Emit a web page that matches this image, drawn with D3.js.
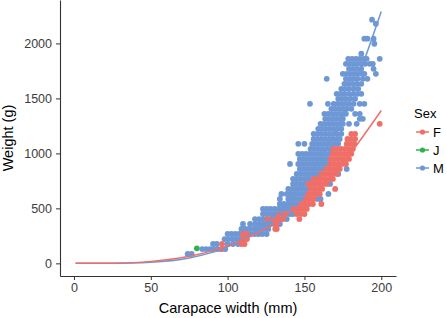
<!DOCTYPE html>
<html>
<head>
<meta charset="utf-8">
<script src="https://cdn.jsdelivr.net/npm/d3@7"></script>
<style>
    body { margin: 0; background: #fff; }
    svg text { font-family: "Liberation Sans", Arial, Helvetica, sans-serif; }
</style>
</head>
<body>
<svg id="chart" width="447" height="318"></svg>
<script>
// Legend categories and colours
const sexes = ['F', 'J', 'M'];
const sexColors = ['#EF6F68', '#2CB34A', '#6E97D5'];

// Axis ticks
const xTicks = [0, 50, 100, 150, 200];
const yTicks = [0, 500, 1000, 1500, 2000];

// Points, one row per weight level: [weight (g), [carapace widths (mm)]]
const maleRows = [
    [2216, [194]],
    [2179, [196.5]],
    [2043, [189, 191, 195]],
    [1997, [195.5]],
    [1906, [187]],
    [1860, [178.5, 181, 183.5, 186, 188.5, 190.5, 199]],
    [1815, [177, 179.5, 182, 184.5, 187, 189.5, 192.5, 194.5]],
    [1769, [179, 181.5, 184, 187, 195]],
    [1724, [175, 177.5, 180, 182.5, 185, 187.5, 189, 196.5]],
    [1678, [164.5, 177, 179.5, 182, 184.5, 188, 191]],
    [1633, [176, 178.5, 181, 184, 187]],
    [1587, [174, 176.5, 179, 182, 185]],
    [1542, [171, 173.5, 176, 179, 182, 184.5, 187]],
    [1496, [172, 174.5, 177, 180, 183]],
    [1451, [153.6, 165.3, 169, 171.5, 174, 176.5, 179, 182, 186, 189]],
    [1405, [167.5, 170, 172.5, 175, 177.5, 180.5]],
    [1360, [163, 165.5, 168, 170.5, 173, 175.5, 177, 183, 186]],
    [1314, [163.5, 166, 168.5, 171, 173.5, 175, 186, 188]],
    [1269, [160.5, 163, 165.5, 168, 170.5, 173, 175, 179, 184]],
    [1223, [159, 161.5, 164, 166.5, 169, 171.5, 174]],
    [1178, [156, 158.5, 161, 163.5, 166, 168.5, 171, 174]],
    [1132, [156, 158.5, 161, 163.5, 166, 168.5, 171, 173]],
    [1087, [146, 150, 155, 157.5, 160, 162.5, 165, 167.5, 170, 172]],
    [1041, [154, 156.5, 159, 161.5, 164, 166.5, 168.5]],
    [996, [146, 148.5, 151, 153.5, 156, 158.5, 161, 163.5, 166]],
    [950, [147, 149.5, 152, 154.5, 157, 159.5, 162, 164.5]],
    [904, [140.6, 146, 148.5, 151, 153.5, 156, 158.5, 161, 163.5, 166]],
    [859, [147, 149.5, 152, 154.5, 157, 159.5, 162, 177.5]],
    [813, [145, 147.5, 150, 152.5, 155, 157.5, 160, 172]],
    [768, [142.6, 145, 147.5, 150, 152.5, 155, 158, 166.7]],
    [722, [142.6, 145, 147.5, 150, 152.5, 154.5, 166.7]],
    [677, [139.5, 142, 144.5, 147, 149.5, 152]],
    [631, [135, 138.5, 141, 143.5, 146, 148.5, 151, 165.6]],
    [586, [134, 139.5, 142, 144.5, 147, 149.5, 158.5, 160.5]],
    [540, [134, 136.5, 139, 141.5, 144, 146.5]],
    [495, [123, 125.5, 128, 130.5, 133, 135.5, 138, 140.5, 143, 145.5]],
    [449, [123, 125.5, 128, 130.5, 133, 135.5, 138, 140.5, 142.5]],
    [403, [117.8, 120.5, 123, 125.5, 128, 130.5, 133, 135.5, 138.5]],
    [358, [110, 114.6, 117.8, 120.5, 123, 125.5, 128, 130.5, 132, 134]],
    [313, [109, 111.5, 114, 116.5, 119, 121.5, 124, 126.5]],
    [267, [100, 102.5, 105, 107.5, 110, 112.5, 115, 117.5, 120, 122.5, 125.4]],
    [221, [98, 100.5, 103, 105.5, 108]],
    [176, [90.5, 93, 100, 103.5, 106.8]],
    [130, [83.5, 86, 88.5, 91, 93.5, 96, 98.5]],
    [85, [74, 76.6]],
];

const femaleRows = [
    [1269, [199]],
    [1178, [180.5, 183]],
    [1132, [178, 180.5, 183]],
    [1087, [177.5, 180, 182.5]],
    [1041, [169, 171.5, 174, 176.5, 179, 181.5]],
    [996, [168.5, 171, 173.5, 176, 178.5, 180.5]],
    [950, [167, 169.5, 172, 174.5, 177, 179]],
    [904, [167, 169.5, 172, 174.5, 177]],
    [859, [164, 166.5, 169, 171.5, 173]],
    [813, [161, 163.5, 166, 168.5, 171]],
    [768, [156, 158.5, 161, 163.5, 166, 168.5]],
    [722, [152.5, 155, 157.5, 160, 162.5, 164.5]],
    [677, [154, 156.5, 159, 161.5, 170]],
    [631, [152.5, 155, 157.5, 160]],
    [586, [151, 153.5, 156]],
    [540, [148, 150.5, 153, 155.5, 161]],
    [495, [142.8, 146.5, 149, 151.5]],
    [449, [133, 137.4, 145, 147.5, 150]],
    [403, [126, 129, 131, 133.5, 136, 146.7]],
    [358, [132]],
    [313, [131, 132]],
    [267, [110, 112.6]],
    [221, [110, 112.6]],
    [176, [96.4, 109, 111]],
    [130, [96]],
];

const juvenileRows = [
    [358, [125.5]],
    [215, [109.5]],
    [137, [80]],
];

// Fitted curves, read at a few widths
const fitWidths = [1, 25, 50, 75, 100, 125, 150, 175, 200];
const femaleFit = [0, 2, 18, 64, 159, 319, 565, 915, 1390];
const maleFit = [0, 1, 10, 49, 150, 360, 735, 1345, 2290];

class ScatterChart {
    constructor(svgContainer) {
        this.svg = svgContainer;
        this.init();
    }

    init() {
        const vis = this;

        // Panel edges in pixels
        vis.left = 60;
        vis.right = 396;
        vis.top = 0;
        vis.bottom = 276;

        vis.color = d3.scaleOrdinal().domain(sexes).range(sexColors);

        vis.xScale = d3.scaleLinear().domain([-9.1, 209.6]).range([vis.left, vis.right]);
        vis.yScale = d3.scaleLinear().domain([-115, 2395]).range([vis.bottom, vis.top]);

        const toPoints = (rows, sex) => rows.flatMap(([weight, widths]) => widths.map((width) => ({ sex, width, weight })));
        // Juveniles first so the other sexes cover them, like the original
        vis.points = [
            ...toPoints(juvenileRows, 'J'),
            ...toPoints(maleRows, 'M'),
            ...toPoints(femaleRows, 'F'),
        ];

        vis.fits = [
            { sex: 'M', values: fitWidths.map((w, i) => ({ width: w, weight: maleFit[i] })) },
            { sex: 'F', values: fitWidths.map((w, i) => ({ width: w, weight: femaleFit[i] })) },
        ];

        vis.drawAxes();
        vis.drawMarks();
        vis.drawLegend();
    }

    drawAxes() {
        const vis = this;

        const xAxis = d3.axisBottom(vis.xScale).tickValues(xTicks).tickSize(4).tickSizeOuter(0).tickPadding(3)
          .tickFormat(d3.format('d'));
        const yAxis = d3.axisLeft(vis.yScale).tickValues(yTicks).tickSize(4).tickSizeOuter(0).tickPadding(4)
          .tickFormat(d3.format('d'));

        const gx = vis.svg.append('g')
          .attr('transform', `translate(0,${vis.bottom})`)
          .call(xAxis);
        const gy = vis.svg.append('g')
          .attr('transform', `translate(${vis.left},0)`)
          .call(yAxis);

        [gx, gy].forEach((g) => {
            g.select('.domain').attr('stroke', '#333').attr('stroke-width', 1.1);
            g.selectAll('.tick line').attr('stroke', '#333');
            g.selectAll('.tick text')
              .attr('fill', '#3d3d3d')
              .style('font-size', '12.5px');
        });

        // Axis titles
        vis.svg.append('text')
          .attr('x', (vis.left + vis.right) / 2)
          .attr('y', 313)
          .attr('text-anchor', 'middle')
          .style('font-size', '14.5px')
          .text('Carapace width (mm)');

        vis.svg.append('text')
          .attr('transform', 'rotate(-90)')
          .attr('x', -(vis.top + vis.bottom) / 2)
          .attr('y', 13)
          .attr('text-anchor', 'middle')
          .style('font-size', '14.5px')
          .text('Weight (g)');
    }

    drawMarks() {
        const vis = this;

        vis.svg.append('g')
          .selectAll('circle')
          .data(vis.points)
          .join('circle')
          .attr('cx', (d) => vis.xScale(d.width))
          .attr('cy', (d) => vis.yScale(d.weight))
          .attr('r', 2.9)
          .attr('fill', (d) => vis.color(d.sex));

        const line = d3.line()
          .x((d) => vis.xScale(d.width))
          .y((d) => vis.yScale(d.weight))
          .curve(d3.curveMonotoneX);

        vis.svg.append('g')
          .selectAll('path')
          .data(vis.fits)
          .join('path')
          .attr('fill', 'none')
          .attr('stroke', (d) => vis.color(d.sex))
          .attr('stroke-width', 1.5)
          .attr('d', (d) => line(d.values));
    }

    drawLegend() {
        const vis = this;

        const legend = vis.svg.append('g').attr('transform', 'translate(414,0)');

        legend.append('text')
          .attr('x', 0)
          .attr('y', 118)
          .style('font-size', '13px')
          .text('Sex');

        const keyY = d3.scalePoint().domain(sexes).range([132, 168]);

        const keys = legend.selectAll('.key')
          .data(sexes)
          .join('g')
          .attr('class', 'key')
          .attr('transform', (d) => `translate(0,${keyY(d)})`);

        keys.append('line')
          .attr('x1', 2).attr('x2', 15)
          .attr('stroke', (d) => vis.color(d))
          .attr('stroke-width', 1.5);

        keys.append('circle')
          .attr('cx', 8.5)
          .attr('r', 2.6)
          .attr('fill', (d) => vis.color(d));

        keys.append('text')
          .attr('x', 19)
          .attr('dy', '0.36em')
          .style('font-size', '13px')
          .text((d) => d);
    }
}

const chart = new ScatterChart(d3.select('#chart'));
</script>
</body>
</html>
